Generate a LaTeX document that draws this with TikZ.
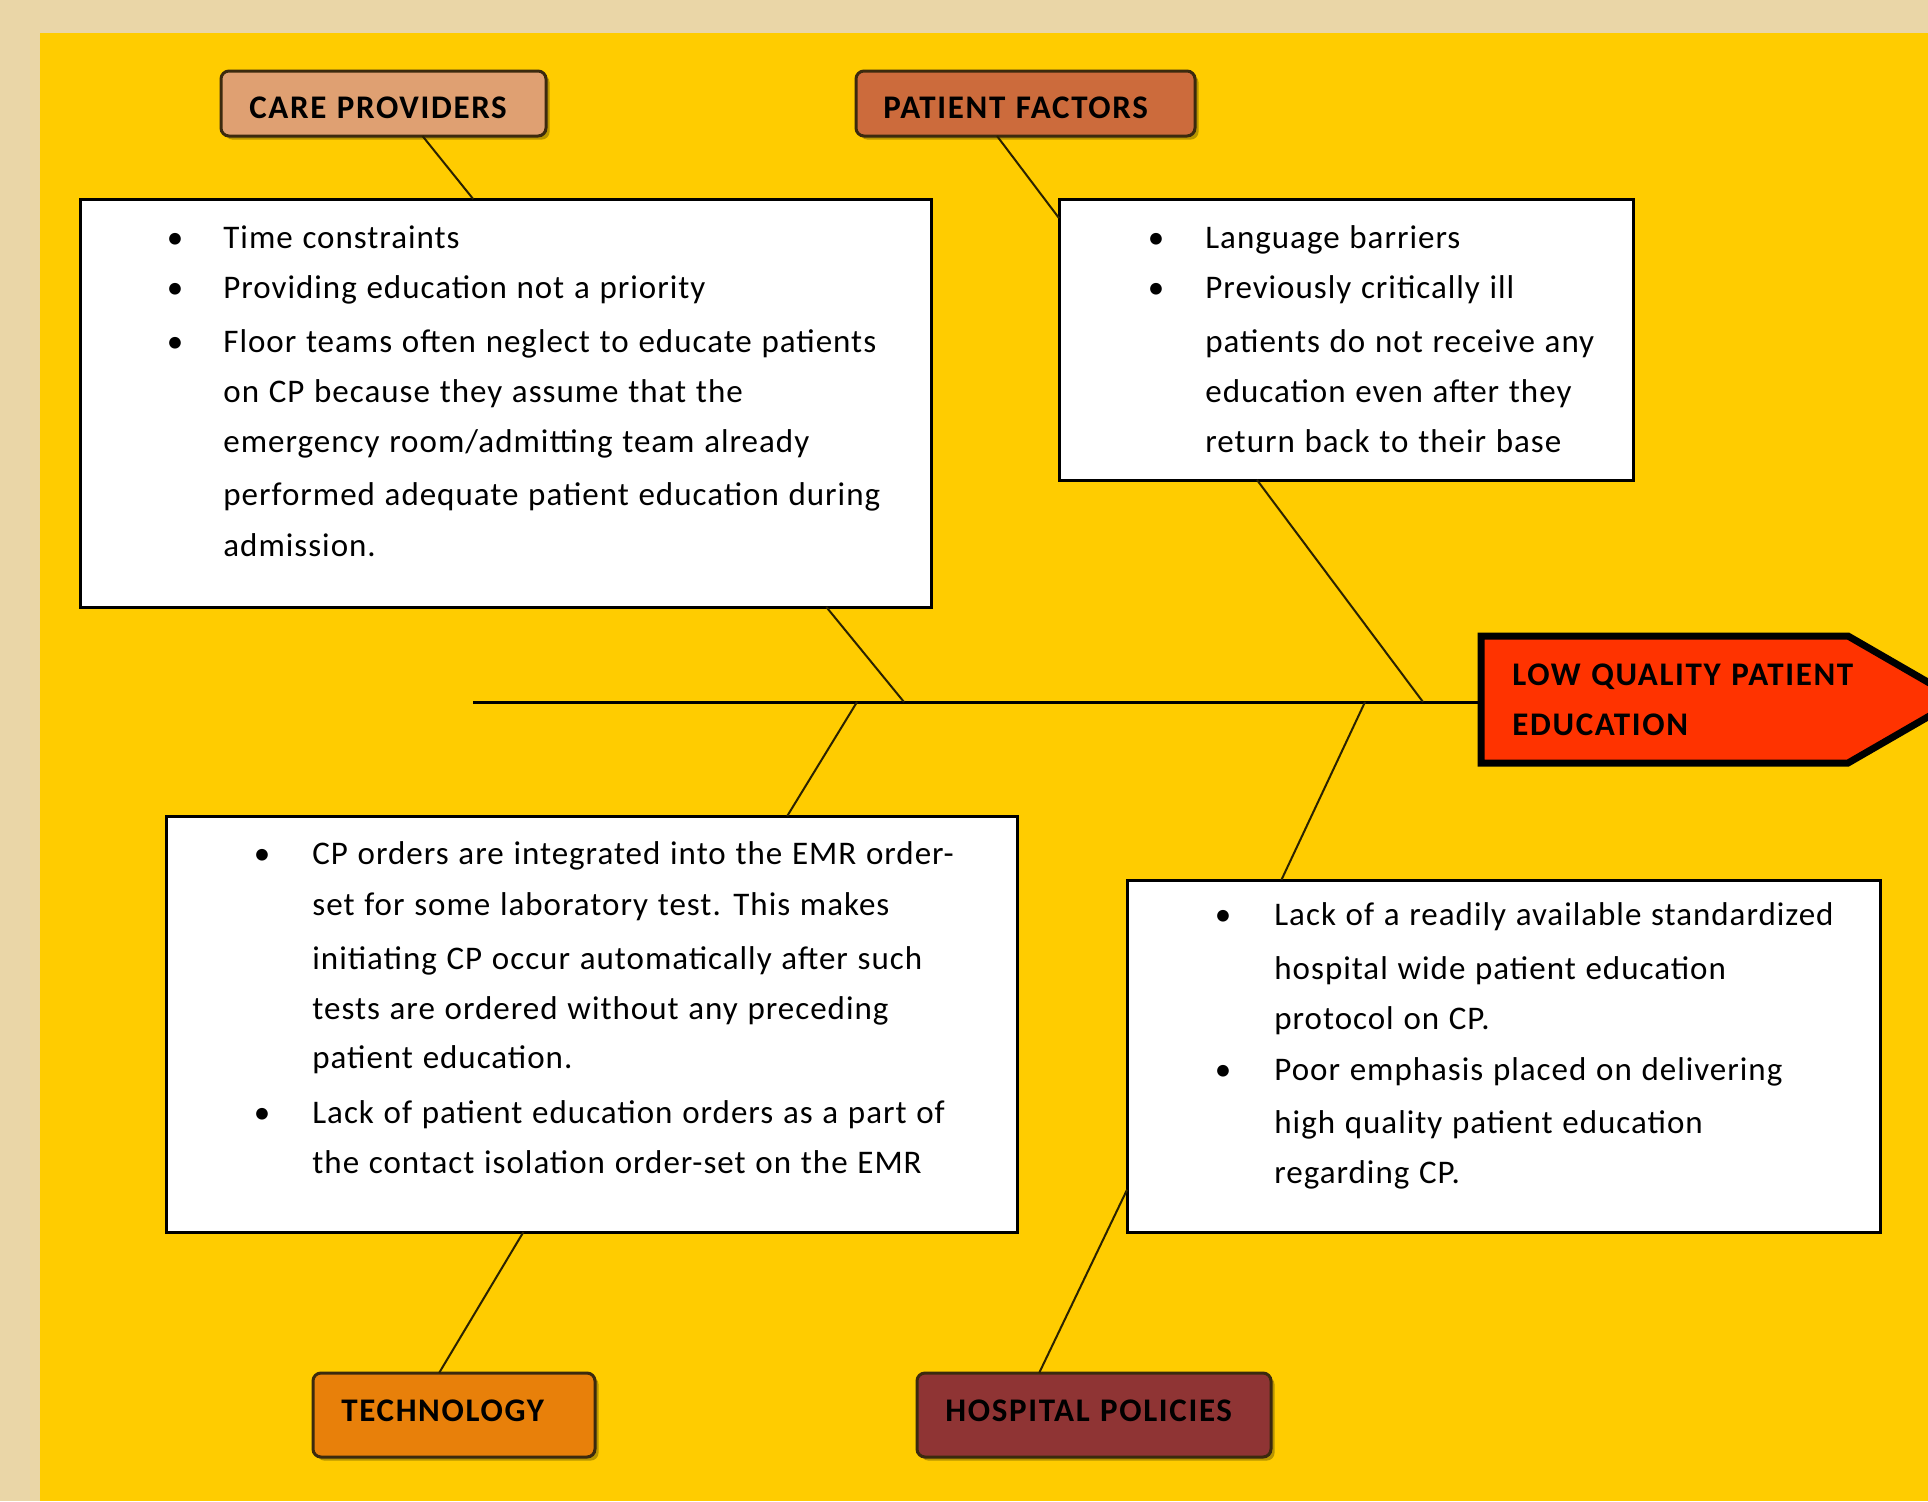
\documentclass[tikz,border=0pt]{standalone}
\usepackage{fontspec}
\setmainfont{Carlito}[LetterSpace=3,WordSpace=1.15]
\usetikzlibrary{calc,shadows}
\definecolor{bgc}{HTML}{EAD6A7}
\definecolor{yel}{HTML}{FFCC00}
\definecolor{cpc}{HTML}{DFA072}
\definecolor{pfc}{HTML}{CC6B3C}
\definecolor{tcc}{HTML}{E8800A}
\definecolor{hpc}{HTML}{8F3434}
\definecolor{headc}{HTML}{FF3300}
\definecolor{labb}{HTML}{3B2A0E}
\definecolor{shc}{HTML}{B89500}
\definecolor{linec}{HTML}{2B2200}
\newcommand\pxu{0.5pt}
\begin{document}
\begin{tikzpicture}[x=0.5pt,y=-0.5pt,
  wbox/.style={draw=black,line width=1.5pt,fill=white,inner sep=0pt,outer sep=0pt},
  lab/.style={draw=labb,line width=1.5pt,rounded corners=4pt,inner sep=0pt,outer sep=0pt,
    drop shadow={shadow xshift=1.8pt,shadow yshift=-1.8pt,fill=shc,opacity=1}},
  body/.style={font=\fontsize{16.5}{20}\selectfont,inner sep=0pt,anchor=base west},
  bul/.style={font=\fontsize{16.5}{20}\selectfont,inner sep=0pt,anchor=base},
  labt/.style={font=\bfseries\fontsize{16.5}{20}\selectfont\addfontfeatures{LetterSpace=5},inner sep=0pt,anchor=base west},
  conn/.style={draw=linec,line width=1pt},
  spine/.style={draw=black,line width=1.5pt}]
\useasboundingbox (0,0) rectangle (1928,1501);
\clip (0,0) rectangle (1928,1501);
\fill[bgc] (0,0) rectangle (1928,1501);
\fill[yel] (40,33) rectangle (1928,1501);

% text boxes
\node[wbox,minimum width=851*\pxu,minimum height=408*\pxu] (tl) at (505.5,403) {};
\node[wbox,minimum width=574*\pxu,minimum height=281*\pxu] (tr) at (1346,339.5) {};
\node[wbox,minimum width=851*\pxu,minimum height=416*\pxu] (bl) at (591.5,1024) {};
\node[wbox,minimum width=753*\pxu,minimum height=352*\pxu] (br) at (1503.5,1056) {};

% category labels
\node[lab,fill=cpc,minimum width=325*\pxu,minimum height=65*\pxu] (cp) at (383.5,103.5) {};
\node[lab,fill=pfc,minimum width=339*\pxu,minimum height=65*\pxu] (pf) at (1025.5,103.5) {};
\node[lab,fill=tcc,minimum width=282*\pxu,minimum height=84*\pxu] (tc) at (454,1415) {};
\node[lab,fill=hpc,minimum width=354*\pxu,minimum height=84*\pxu] (hp) at (1094,1415) {};
\node[labt] (cpt) at (249,118) {CARE PROVIDERS};
\node[labt] (pft) at (883,118) {PATIENT FACTORS};
\node[labt] (tct) at (341,1421) {TECHNOLOGY};
\node[labt] (hpt) at (945,1421) {HOSPITAL POLICIES};

% head
\draw[fill=headc,draw=black,line width=3.5pt,line join=miter]
  (1481,636) -- (1848,636) -- (1958,699.5) -- (1848,763) -- (1481,763) -- cycle;
\coordinate (headw) at (1479,702);
\node[labt] (headt1) at (1512,685) {LOW QUALITY PATIENT};
\node[labt] (headt2) at (1512,735) {EDUCATION};

% spine
\coordinate (spl) at (473,702);
\coordinate (s1) at (904,702);
\coordinate (s2) at (1423,702);
\coordinate (s3) at (857,702);
\coordinate (s4) at (1365,702);
\draw[spine] (spl) -- (headw);

% connectors
\draw[conn] ($(cp.south west)!0.62!(cp.south east)$) -- ($(tl.north west)!0.462!(tl.north east)$);
\draw[conn] ($(tl.south west)!0.877!(tl.south east)$) -- (s1);
\draw[conn] ($(pf.south west)!0.416!(pf.south east)$) -- ($(tr.north west)!0.068!(tr.south west)$);
\draw[conn] ($(tr.south west)!0.345!(tr.south east)$) -- (s2);
\draw[conn] (s3) -- ($(bl.north west)!0.73!(bl.north east)$);
\draw[conn] ($(bl.south west)!0.42!(bl.south east)$) -- ($(tc.north west)!0.447!(tc.north east)$);
\draw[conn] (s4) -- ($(br.north west)!0.205!(br.north east)$);
\draw[conn] ($(br.north west)!0.88!(br.south west)$) -- ($(hp.north west)!0.345!(hp.north east)$);

% top-left text
\foreach \yy/\t [count=\i] in {248/{Time constraints},298/{Providing education  not a priority},352/{Floor teams often neglect to educate  patients},402/{on CP because they assume that the},452/{emergency room/admitting team already},505/{performed adequate patient education  during},556/{admission.}}
  \node[body] (tl\i) at (223,\yy) {\t};
\node[bul] (tlb1) at (175,248) {•};
\node[bul] (tlb2) at (175,298) {•};
\node[bul] (tlb3) at (175,352) {•};

% top-right text
\foreach \yy/\t [count=\i] in {248/{Language barriers},298/{Previously critically ill},352/{patients do not receive any},402/{education even after they},452/{return back to their base}}
  \node[body] (tr\i) at (1205,\yy) {\t};
\node[bul] (trb1) at (1156,248) {•};
\node[bul] (trb2) at (1156,298) {•};

% bottom-left text
\foreach \yy/\t [count=\i] in {864/{CP orders are integrated into  the EMR order-},915/{set for some laboratory test. This makes},969/{initiating CP occur automatically after such},1019/{tests are ordered without any preceding},1068/{patient education.},1123/{Lack of patient education orders as a part of},1173/{the contact isolation order-set on the EMR}}
  \node[body] (bl\i) at (312,\yy) {\t};
\node[bul] (blb1) at (262,864) {•};
\node[bul] (blb2) at (262,1123) {•};

% bottom-right text
\foreach \yy/\t [count=\i] in {925/{Lack of a readily available standardized},979/{hospital wide patient education},1029/{protocol on CP.},1080/{Poor emphasis placed on delivering},1133/{high quality patient education},1183/{regarding CP.}}
  \node[body] (br\i) at (1274,\yy) {\t};
\node[bul] (brb1) at (1223,925) {•};
\node[bul] (brb2) at (1223,1080) {•};
\end{tikzpicture}
\end{document}
